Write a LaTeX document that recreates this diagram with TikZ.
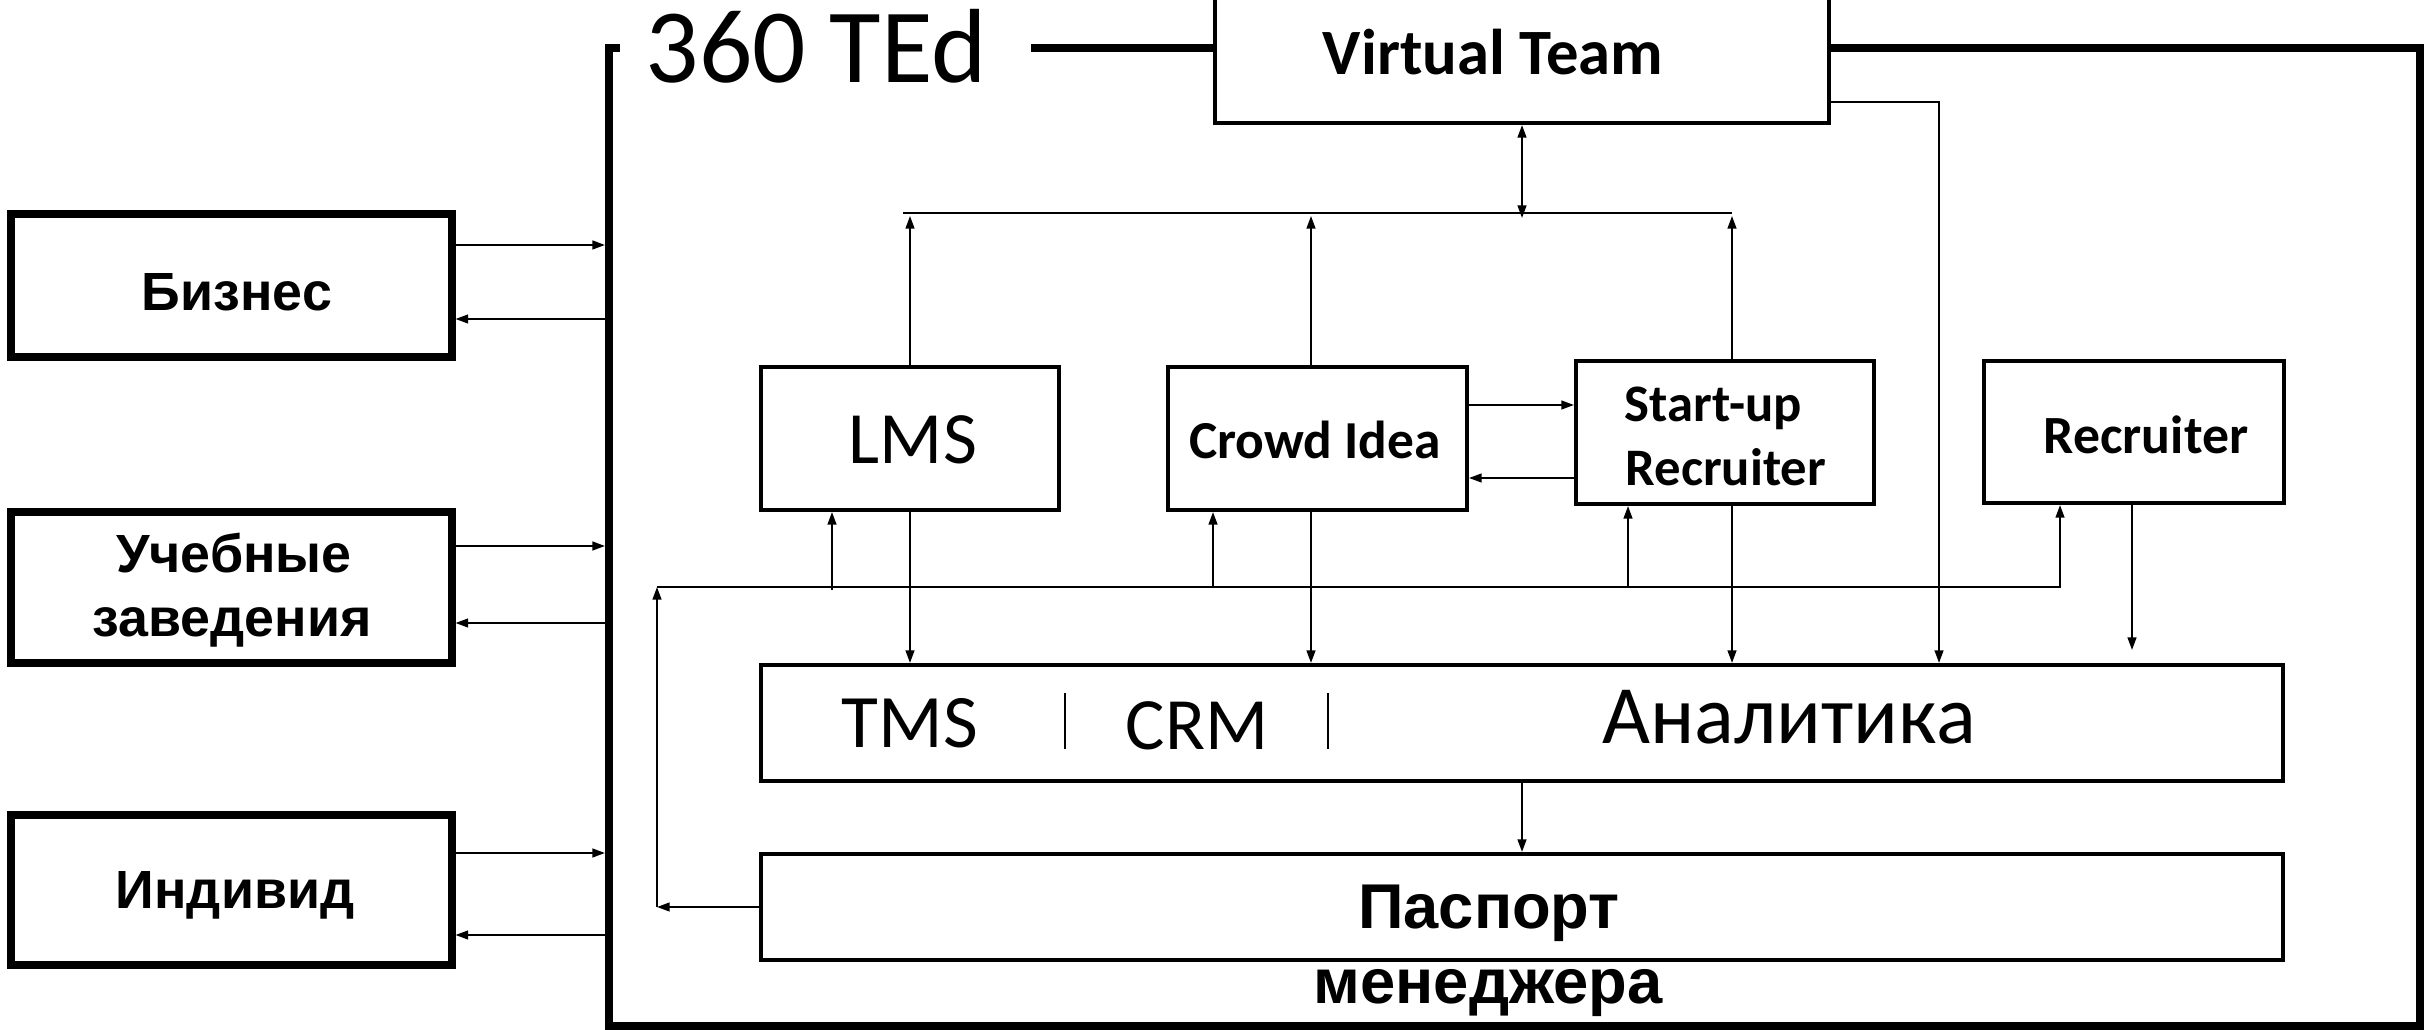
\documentclass[tikz,border=0pt]{standalone}
\usepackage{fontspec}
\setmainfont{Carlito}
\newfontfamily\arialfont{Liberation Sans}
\usetikzlibrary{arrows.meta}

\tikzset{
  sidebox/.style={draw, line width=2pt, fill=white, minimum width=44.1mm, inner sep=0pt},
  unitbox/.style={draw, line width=1.15pt, fill=white, inner sep=0pt},
  txt/.style={inner sep=0pt, anchor=base},
  thin/.style={line width=0.55pt},
  link/.style={thin, -{Triangle[length=3.6pt,width=2.5pt]}},
  duplex/.style={thin, {Triangle[length=3.6pt,width=2.5pt]}-{Triangle[length=3.6pt,width=2.5pt]}},
  sidelabel/.style={txt, font=\arialfont\bfseries\fontsize{15.3pt}{18pt}\selectfont},
}

\begin{document}
\begin{tikzpicture}[x=0.1mm, y=-0.1mm]
\useasboundingbox (0,0) rectangle (2425,1030);

% outer system frame, open at the top for the title
\draw[line width=2.3pt] (620,48) -- (609,48) -- (609,1026) -- (2420,1026) -- (2420,48) -- (1031,48);
\node[txt, anchor=base west, font=\fontsize{30pt}{36pt}\selectfont] (title) at (645,83) {360 TEd};

% named points for buses and free ends
\coordinate (frameW) at (605,0);
\coordinate (busTL) at (903,213);
\coordinate (busTR) at (1732,213);
\coordinate (busBL) at (657,587);
\coordinate (busBR) at (2060,587);

% external parties
\node[sidebox, minimum height=14.3mm] (biz) at (231.5,285.5) {};
\node[sidebox, minimum height=15.1mm] (edu) at (231.5,587.5) {};
\node[sidebox, minimum height=15.0mm] (ind) at (231.5,890) {};
\node[sidelabel] (bizT) at (237,311) {Бизнес};
\node[sidelabel] (eduT1) at (234,572) {Учебные};
\node[sidelabel] (eduT2) at (232,637) {заведения};
\node[sidelabel] (indT) at (235,908) {Индивид};

% platform modules
\node[unitbox, minimum width=61.4mm, minimum height=16.3mm] (vt) at (1522,41.5) {};
\node[unitbox, minimum width=29.8mm, minimum height=14.3mm] (lms) at (910,438.5) {};
\node[unitbox, minimum width=29.9mm, minimum height=14.3mm] (crowd) at (1317.5,438.5) {};
\node[unitbox, minimum width=29.8mm, minimum height=14.3mm] (su) at (1725,432.5) {};
\node[unitbox, minimum width=30.0mm, minimum height=14.2mm] (rec) at (2134,432) {};
\node[unitbox, minimum width=152.2mm, minimum height=11.6mm] (ana) at (1522,723) {};
\node[unitbox, minimum width=152.2mm, minimum height=10.6mm] (pass) at (1522,907) {};

\node[txt, font=\bfseries\fontsize{18.4pt}{22pt}\selectfont] (vtT) at (1493,75) {Virtual Team};
\node[txt, font=\fontsize{21pt}{25pt}\selectfont] (lmsT) at (913,464) {LMS};
\node[txt, font=\bfseries\fontsize{15.2pt}{18pt}\selectfont] (crowdT) at (1315,459) {Crowd Idea};
\node[txt, anchor=base west, font=\bfseries\fontsize{15pt}{18pt}\selectfont] (suT1) at (1624,422) {Start-up};
\node[txt, anchor=base west, font=\bfseries\fontsize{15pt}{18pt}\selectfont] (suT2) at (1625,486) {Recruiter};
\node[txt, font=\bfseries\fontsize{15.3pt}{18pt}\selectfont] (recT) at (2146,454) {Recruiter};
\node[txt, font=\fontsize{21.5pt}{25pt}\selectfont] (tmsT) at (910,747) {TMS};
\node[txt, font=\fontsize{21pt}{25pt}\selectfont] (crmT) at (1197,749) {CRM};
\node[txt, font=\fontsize{23.6pt}{28pt}\selectfont] (anaT) at (1789,743) {Аналитика};
\node[txt, font=\arialfont\bfseries\fontsize{18pt}{21pt}\selectfont] (passT1) at (1489,928) {Паспорт};
\node[txt, font=\arialfont\bfseries\fontsize{18pt}{21pt}\selectfont] (passT2) at (1488,1003) {менеджера};

% separators inside the analytics strip
\draw[thin] (1065,693) -- (1065,749);
\draw[thin] (1328,693) -- (1328,749);

% exchange with external parties
\draw[link] (biz.east |- 0,245) -- (frameW |- 0,245);
\draw[link] (frameW |- 0,319) -- (biz.east |- 0,319);
\draw[link] (edu.east |- 0,546) -- (frameW |- 0,546);
\draw[link] (frameW |- 0,623) -- (edu.east |- 0,623);
\draw[link] (ind.east |- 0,853) -- (frameW |- 0,853);
\draw[link] (frameW |- 0,935) -- (ind.east |- 0,935);

% upper bus to the virtual team
\draw[thin] (busTL) -- (busTR);
\draw[duplex] (vt.south) -- (1522,218);
\draw[link] (lms.north) -- (910,216);
\draw[link] (1311,0 |- crowd.north) -- (1311,216);
\draw[link] (1732,0 |- su.north) -- (1732,216);
\draw[link] (vt.east |- 0,102) -- (1939,102) -- (1939,0 |- ana.north);

% crowd idea <-> start-up recruiter
\draw[link] (crowd.east |- 0,405) -- (su.west |- 0,405);
\draw[link] (su.west |- 0,478) -- (crowd.east |- 0,478);

% lower bus feeding the modules
\draw[link] (busBL) -- (busBR) -- (busBR |- rec.south);
\draw[link] (832,590) -- (832,0 |- lms.south);
\draw[link] (1213,0 |- busBL) -- (1213,0 |- crowd.south);
\draw[link] (1628,0 |- busBL) -- (1628,0 |- su.south);

% modules down to the analytics strip
\draw[link] (lms.south) -- (lms.south |- ana.north);
\draw[link] (1311,0 |- crowd.south) -- (1311,0 |- ana.north);
\draw[link] (1732,0 |- su.south) -- (1732,0 |- ana.north);
\draw[link] (2132,0 |- rec.south) -- (2132,650);
\draw[link] (ana.south) -- (pass.north);

% manager passport back to the lower bus
\draw[link] (pass.west) -- (busBL |- pass.west);
\draw[link] (busBL |- pass.west) -- (busBL);
\end{tikzpicture}
\end{document}
